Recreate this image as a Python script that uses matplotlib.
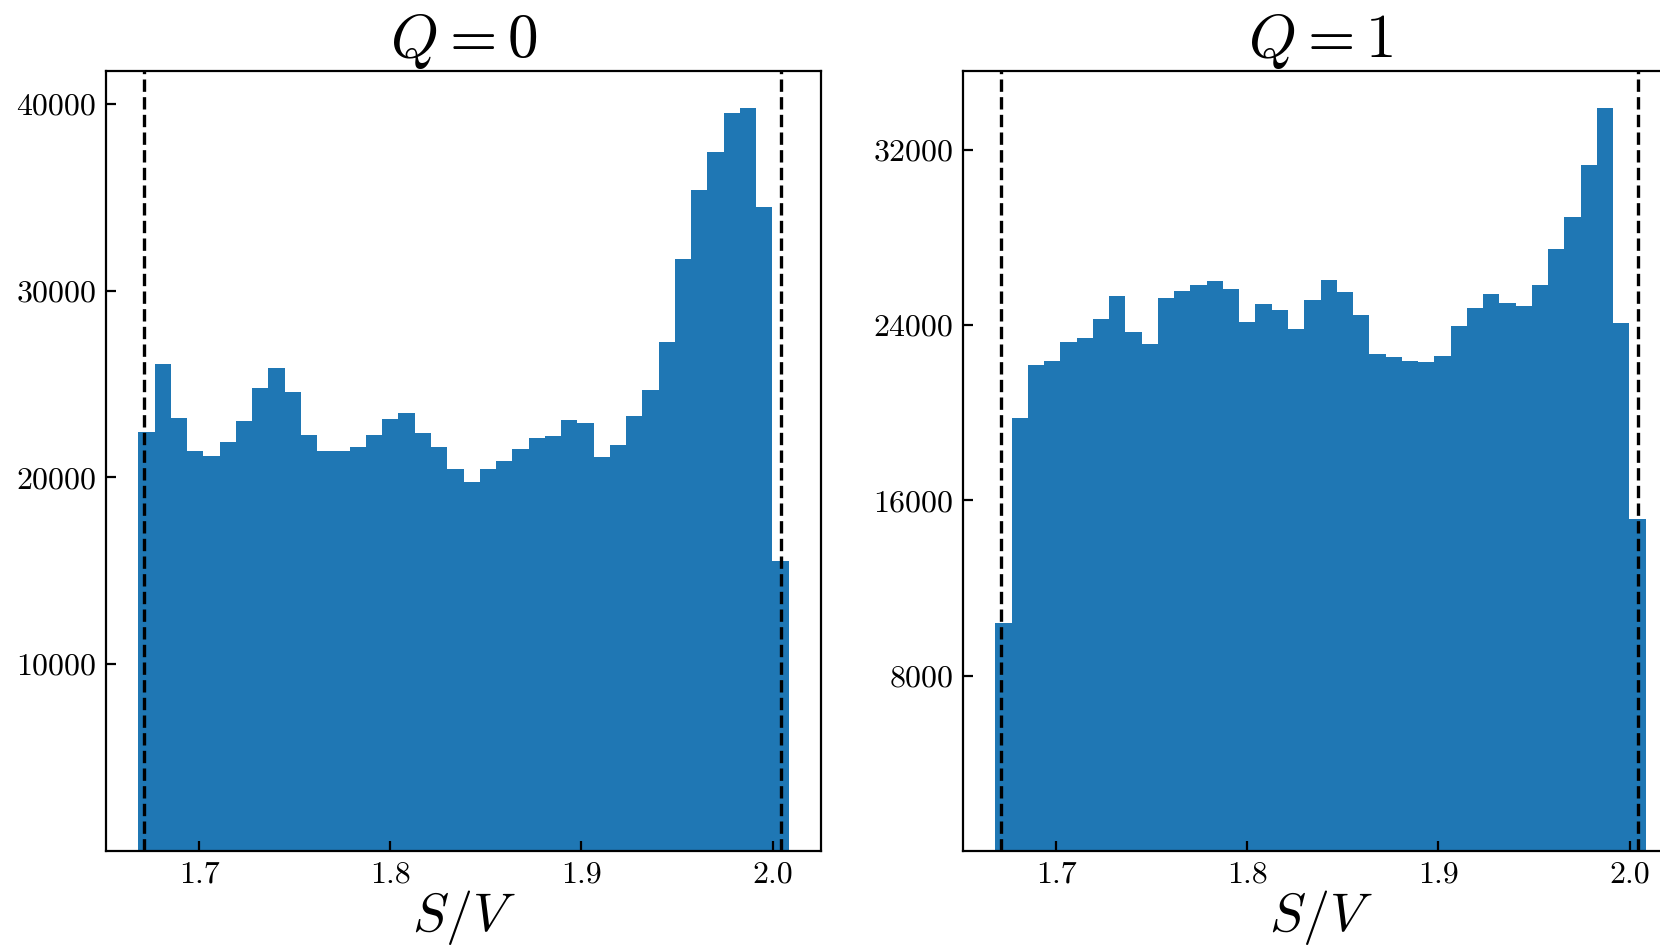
import numpy as np
import matplotlib
matplotlib.use("Agg")
import matplotlib.pyplot as plt

plt.rcParams['mathtext.fontset'] = 'cm'
plt.rcParams['font.family'] = 'serif'
plt.rcParams['font.serif'] = ['cmr10']
plt.rcParams['axes.formatter.use_mathtext'] = True

# ---- data ----
x_min, x_max, n_bins = 1.6683, 2.0083, 40
counts_q0 = [22430, 26070, 23180, 21410, 21140, 21890, 23030, 24780, 25850, 24570,
             22270, 21410, 21410, 21630, 22270, 23130, 23450, 22380, 21630, 20450,
             19750, 20450, 20880, 21520, 22110, 22215, 23070, 22910, 21090, 21730,
             23290, 24680, 27250, 31690, 35380, 37420, 39500, 39770, 34470, 15520]
counts_q1 = [10415, 19750, 22190, 22370, 23220, 23420, 24280, 25320, 23680, 23130,
             25230, 25560, 25820, 26000, 25640, 24130, 24950, 24680, 23830, 25150,
             26050, 25500, 24450, 22670, 22550, 22350, 22310, 22580, 23950, 24770,
             25410, 25000, 24860, 25820, 27460, 28920, 31300, 33900, 24090, 15150]
vlines = [1.6713, 2.0045]
titles = [r'$Q=0$', r'$Q=1$']
xlabel = r'$S/V$'
xticks = [1.7, 1.8, 1.9, 2.0]
yticks_q0 = [10000, 20000, 30000, 40000]
yticks_q1 = [8000, 16000, 24000, 32000]

edges = np.linspace(x_min, x_max, n_bins + 1)
centers = 0.5 * (edges[:-1] + edges[1:])

fig = plt.figure(figsize=(8.3, 4.735), dpi=200)
W, H = 1660, 947
ax_w = 715 / W
ax_h = 780 / H
ax_b = (H - 851) / H
axes = [fig.add_axes([106 / W, ax_b, ax_w, ax_h]),
        fig.add_axes([963 / W, ax_b, ax_w, ax_h])]

for ax, counts, title, yt in zip(axes, [counts_q0, counts_q1], titles, [yticks_q0, yticks_q1]):
    ax.hist(centers, bins=edges, weights=counts, color='#1f77b4', histtype='stepfilled')
    for v in vlines:
        ax.axvline(v, color='k', ls='--', lw=1.2)
    ax.set_title(title, fontsize=22, pad=4.5)
    ax.set_xlabel(xlabel, fontsize=19.5, labelpad=0)
    ax.set_xticks(xticks, labels=[f'{t:.1f}' for t in xticks])
    ax.set_yticks(yt, labels=[str(t) for t in yt])
    ax.tick_params(direction='in', labelsize=11.5, top=False, right=False)

fig.savefig('out.png', dpi=200)
